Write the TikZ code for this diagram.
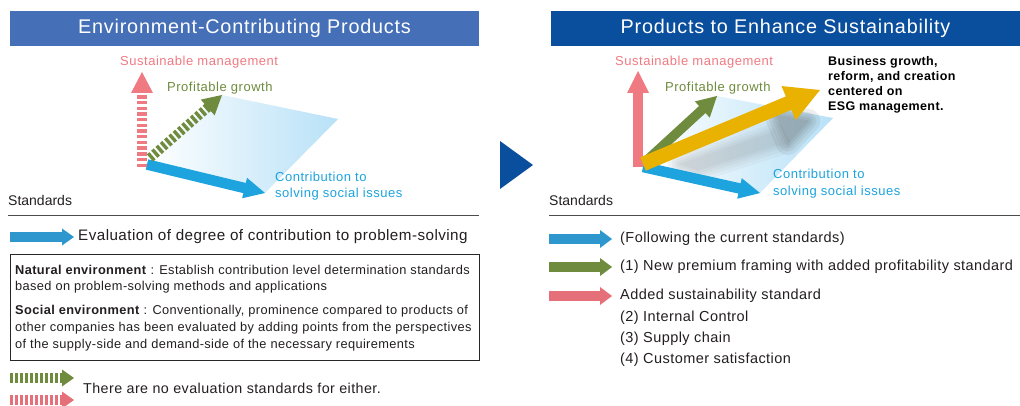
\documentclass[tikz,border=0pt]{standalone}
\usepackage{fontspec}
\setmainfont{Liberation Sans}
\usetikzlibrary{calc}
\definecolor{hdrA}{RGB}{69,111,183}
\definecolor{hdrB}{RGB}{10,78,158}
\definecolor{pinkc}{RGB}{240,122,130}
\definecolor{greenc}{RGB}{111,139,61}
\definecolor{bluec}{RGB}{29,163,221}
\definecolor{yellowc}{RGB}{233,178,0}
\definecolor{planec}{RGB}{184,225,247}
\definecolor{legblue}{RGB}{46,152,206}
\definecolor{legpink}{RGB}{229,112,121}
\definecolor{txtc}{RGB}{35,31,32}
\newcommand{\fatarrow}[6]{%
  \coordinate (fab) at ($(#3)!#6!(#2)$);
  \coordinate (fas) at ($(#3)!#6-0.6pt!(#2)$);
  \draw[#1, line width=#4] (#2) -- (fas);
  \fill[#1] (#3) -- ($(fab)!#5!90:(#3)$) -- ($(fab)!#5!-90:(#3)$) -- cycle;
}
\newcommand{\fsz}[3]{\fontsize{#1}{#2}\selectfont\addfontfeature{LetterSpace=#3}}
\begin{document}
\begin{tikzpicture}[x=1pt,y=-1pt,
  hdr/.style={font=\fsz{19.8}{22}{4}, text=white},
  axlbl/.style={anchor=west, font=\fsz{13}{16.5}{4}, inner sep=0pt},
  std/.style={anchor=west, font=\fontsize{14}{17}\selectfont, text=txtc, inner sep=0pt},
  legL/.style={anchor=west, font=\fsz{15.2}{17}{3}, text=txtc, inner sep=0pt},
  legR/.style={anchor=west, font=\fsz{14.5}{17}{3}, text=txtc, inner sep=0pt},
  boxtxt/.style={anchor=west, font=\fsz{12.8}{15}{3}, text=txtc, inner sep=0pt},
  stripes/.style={dash pattern=on 3.4pt off 2.3pt},
  vbars/.style={dash pattern=on 3pt off 2pt},
  shadowlayer/.style={draw=black!70, fill=black!70, line join=round, line cap=round}]
\useasboundingbox (0,0) rectangle (1020,406);
\fill[white] (0,0) rectangle (1020,406);

% headers
\fill[hdrA] (10,11) rectangle (479,46);
\node[hdr] (h1) at (244.5,28.5) {Environment-Contributing Products};
\fill[hdrB] (551,11) rectangle (1020,46);
\node[hdr] (h2) at (785.5,28.5) {Products to Enhance Sustainability};

% pointer triangle
\fill[hdrB] (500,141) -- (533,165) -- (500,189) -- cycle;

% ===== left diagram =====
\coordinate (LO) at (147,160);
\coordinate (LT) at (222,95);
\coordinate (LR) at (338,119);
\coordinate (LB) at (265,193);
\shade[left color=white, right color=planec] (LO) -- (LT) -- (LR) -- (LB) -- cycle;
\coordinate (LbS) at (147,164.5);
\coordinate (LbT) at (265,193);
\fatarrow{bluec}{LbS}{LbT}{10.5pt}{10.5pt}{21pt}
\coordinate (LpS) at (142,167);
\coordinate (LpT) at (142,72);
\fatarrow{pinkc,stripes}{LpS}{LpT}{10pt}{11pt}{21pt}
\coordinate (LgS) at (150,158);
\coordinate (LgT) at (222,95);
\fatarrow{greenc,stripes}{LgS}{LgT}{9.5pt}{10.5pt}{19pt}

\node[axlbl, text=pinkc] (lsm) at (120,62) {Sustainable management};
\node[axlbl, text=greenc] (lpg) at (167,88) {Profitable growth};
\node[axlbl, text=bluec, align=left] (lcs) at (275,186) {Contribution to\\solving social issues};

% ===== right diagram =====
\coordinate (RO) at (643,165);
\coordinate (RT) at (717,96);
\coordinate (RR) at (833,118);
\coordinate (RB) at (760,193);
\shade[left color=white, right color=planec] (RO) -- (RT) -- (RR) -- (RB) -- cycle;
% soft shadow under the yellow arrow (layered blur)
\foreach \w in {24,17,11,6,1}{
  \begin{scope}[transparency group, opacity=0.045]
    \path[shadowlayer, line width=\w pt] (680,164) -- (772,133) -- (778,144) -- (698,170) -- cycle;
  \end{scope}
  \begin{scope}[transparency group, opacity=0.09]
    \path[shadowlayer, line width=\w pt] (776,115) -- (808,121) -- (788,143) -- cycle;
  \end{scope}
}
\coordinate (RbS) at (643,167);
\coordinate (RbT) at (760,193);
\fatarrow{bluec}{RbS}{RbT}{10.5pt}{10.5pt}{21pt}
\coordinate (RpS) at (638,167);
\coordinate (RpT) at (638,71);
\fatarrow{pinkc}{RpS}{RpT}{10pt}{11pt}{22pt}
\coordinate (RgS) at (644,163);
\coordinate (RgT) at (717,96);
\fatarrow{greenc}{RgS}{RgT}{9.5pt}{11pt}{20pt}
\coordinate (RyS) at (643,164);
\coordinate (RyT) at (820,90);
\fatarrow{yellowc}{RyS}{RyT}{14.5pt}{18.5pt}{34pt}

\node[axlbl, text=pinkc] (rsm) at (615,62) {Sustainable management};
\node[axlbl, text=greenc] (rpg) at (665,88) {Profitable growth};
\node[axlbl, text=bluec, align=left] (rcs) at (773,183.5) {Contribution to\\solving social issues};
\node[anchor=north west, inner sep=0pt, align=left, text=black,
  font=\fsz{12.5}{15}{3}\bfseries] (esg) at (828,56)
  {Business growth,\\reform, and creation\\centered on\\ESG management.};

% ===== standards =====
\node[std] (s1) at (8,200) {Standards};
\node[std] (s2) at (549,200) {Standards};
\draw[black!70, line width=0.9pt] (8,215) -- (479,215);
\draw[black!70, line width=0.9pt] (549,215) -- (1020,215);

% left legend
\coordinate (lg1S) at (10,237);
\coordinate (lg1T) at (74,237);
\fatarrow{legblue}{lg1S}{lg1T}{10pt}{8.5pt}{12pt}
\node[legL] (le1) at (78,237) {Evaluation of degree of contribution to problem-solving};

\draw[black!85, line width=0.9pt] (10,254) rectangle (479,360);
\node[boxtxt] (b1) at (15,270) {\textbf{Natural environment} : Establish contribution level determination standards};
\node[boxtxt] (b2) at (15,287) {based on problem-solving methods and applications};
\node[boxtxt] (b3) at (15,311) {\textbf{Social environment} : Conventionally, prominence compared to products of};
\node[boxtxt] (b4) at (15,328) {other companies has been evaluated by adding points from the perspectives};
\node[boxtxt] (b5) at (15,345) {of the supply-side and demand-side of the necessary requirements};

\coordinate (lg2S) at (10,378);
\coordinate (lg2T) at (74,378);
\fatarrow{greenc,vbars}{lg2S}{lg2T}{10pt}{8.5pt}{12pt}
\coordinate (lg3S) at (10,400);
\coordinate (lg3T) at (74,400);
\fatarrow{legpink,vbars}{lg3S}{lg3T}{10pt}{8.5pt}{12pt}
\node[legR, font=\fsz{14.3}{17}{3}] (le2) at (83,388) {There are no evaluation standards for either.};

% right legend
\coordinate (rg1S) at (549,239);
\coordinate (rg1T) at (612,239);
\fatarrow{legblue}{rg1S}{rg1T}{10pt}{9pt}{12pt}
\coordinate (rg2S) at (549,267);
\coordinate (rg2T) at (612,267);
\fatarrow{greenc}{rg2S}{rg2T}{10pt}{9pt}{12pt}
\coordinate (rg3S) at (549,296);
\coordinate (rg3T) at (612,296);
\fatarrow{legpink}{rg3S}{rg3T}{10pt}{9pt}{12pt}
\node[legR] (re1) at (620,239) {(Following the current standards)};
\node[legR] (re2) at (620,267) {(1) New premium framing with added profitability standard};
\node[legR] (re3) at (620,296) {Added sustainability standard};
\node[legR] (re4) at (620,318) {(2) Internal Control};
\node[legR] (re5) at (620,339) {(3) Supply chain};
\node[legR] (re6) at (620,360) {(4) Customer satisfaction};
\end{tikzpicture}
\end{document}
